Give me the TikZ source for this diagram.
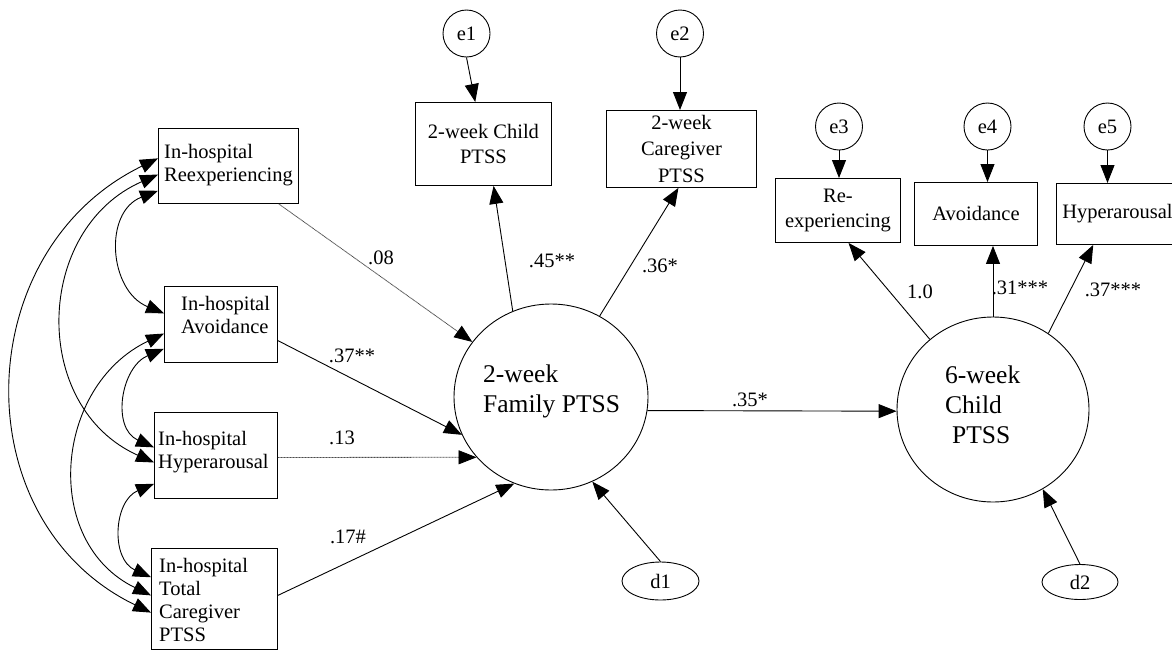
\documentclass[tikz,border=0pt]{standalone}
\usepackage{fontspec}
\setmainfont{Liberation Serif}
\usetikzlibrary{arrows.meta,calc,shapes.geometric}
\newcommand\fsbox{\fontsize{20.5}{23}\selectfont}
\newcommand\fsboxb{\fontsize{20.5}{25}\selectfont}
\newcommand\fscare{\fontsize{20.5}{26.5}\selectfont}
\newcommand\fsbig{\fontsize{25.5}{30}\selectfont}
\begin{document}
\begin{tikzpicture}[x=1pt,y=-1pt,
  every node/.style={inner sep=0pt},
  >={Triangle[length=18pt,width=14pt]},
  bx/.style={draw, line width=0.9pt, rectangle, anchor=north west, font=\fsboxb, align=center},
  txt/.style={anchor=north west, align=left, font=\fsbox},
  lat/.style={draw, line width=0.9pt, ellipse},
  err/.style={draw, line width=0.9pt, circle, minimum size=47pt, font=\fsbox},
  lab/.style={font=\fsbox},
  ln/.style={line width=0.9pt, ->},
  cov/.style={line width=0.9pt, <->},
  weak/.style={line width=0.8pt, draw=black!70, dash pattern=on 1pt off 0.5pt,
    -{Triangle[length=18pt,width=14pt,color=black]}}
]
\useasboundingbox (0,0) rectangle (1172,651);
\clip (0,0) rectangle (1172,651);

% left observed boxes
\node[bx, minimum width=140pt, minimum height=75pt] (reexp) at (158,128) {};
\node[bx, minimum width=113pt, minimum height=76pt] (avoid) at (164,286) {};
\node[bx, minimum width=123pt, minimum height=86pt] (hyper) at (154,412) {};
\node[bx, minimum width=126pt, minimum height=101pt] (total) at (151,548) {};
\node[txt] (reexpT) at (164,144) {In-hospital\\Reexperiencing};
\node[txt] (avoidT) at (181,296) {In-hospital\\Avoidance};
\node[txt] (hyperT) at (158,431) {In-hospital\\Hyperarousal};
\node[txt] (totalT) at (159,558) {In-hospital\\Total\\Caregiver\\PTSS};

% top boxes
\node[bx, minimum width=136pt, minimum height=83pt] (child) at (415,102) {2-week Child\\PTSS};
\node[bx, minimum width=150pt, minimum height=77pt, font=\fscare] (care) at (606,110) {2-week\\Caregiver\\PTSS};

% right boxes
\node[bx, minimum width=125pt, minimum height=64pt] (rre) at (775,178) {Re-\\experiencing};
\node[bx, minimum width=123pt, minimum height=63pt] (ravo) at (914,182) {Avoidance};
\node[bx, minimum width=122pt, minimum height=61pt] (rhyp) at (1056,183) {Hyperarousal};

% error terms
\node[err] (e1) at (466.5,33.5) {e1};
\node[err] (e2) at (680,33.5) {e2};
\node[err] (e3) at (839,126.5) {e3};
\node[err] (e4) at (987.5,126.5) {e4};
\node[err] (e5) at (1107.5,126.5) {e5};

% latent variables
\node[lat, minimum width=194pt, minimum height=186pt] (fam) at (551,397) {};
\node[txt, font=\fsbig] (famT) at (483,365) {2-week\\Family PTSS};
\node[lat, minimum width=192pt, minimum height=185pt] (six) at (993,409.5) {};
\node[txt, font=\fsbig] (sixT) at (945,366) {6-week\\Child\\\hspace*{7pt}PTSS};

% disturbances
\node[lat, minimum width=77pt, minimum height=38pt, font=\fsbox] (d1) at (660.5,581) {d1};
\node[lat, minimum width=76pt, minimum height=35pt, font=\fsbox] (d2) at (1080,582) {d2};

% error arrows
\draw[ln] (e1.south) -- ($(child.north west)!0.44!(child.north east)$);
\draw[ln] (e2) -- (e2 |- care.north);
\draw[ln] (e3) -- (e3 |- rre.north);
\draw[ln] (e4) -- (e4 |- ravo.north);
\draw[ln] (e5) -- (e5 |- rhyp.north);

% family factor loadings
\draw[ln] (fam.114) -- ($(child.south west)!0.574!(child.south east)$);
\draw[ln] (fam.59) -- ($(care.south west)!0.48!(care.south east)$);

% predictors
\draw[weak] ($(reexp.south west)!0.857!(reexp.south east)$) -- (fam.145.6);
\draw[ln] ($(avoid.north east)!0.71!(avoid.south east)$) -- (fam.203.9);
\draw[weak] ($(hyper.north east)!0.523!(hyper.south east)$) -- (fam.219);
\draw[ln] ($(total.north east)!0.465!(total.south east)$) -- (fam.247.1);
\draw[ln] (d1.north) -- (fam.296.3);

% path to 6-week
\draw[ln] (fam.-8.9) -- (six.181.5);

% 6-week loadings
\draw[ln] (six.132.3) -- ($(rre.south west)!0.584!(rre.south east)$);
\draw[ln] (six.north) -- (six.north |- ravo.south);
\draw[ln] (six.54.6) -- ($(rhyp.south west)!0.303!(rhyp.south east)$);
\draw[ln] (d2.north) -- (six.-58.1);

% labels
\node[lab] (l08) at (381,258) {.08};
\node[lab] (l45) at (552,261) {.45**};
\node[lab] (l36) at (660,266) {.36*};
\node[lab] (l37) at (352,356) {.37**};
\node[lab] (l13) at (342,438) {.13};
\node[lab] (l17) at (348,537) {.17\#};
\node[lab] (l35) at (750,400) {.35*};
\node[lab] (l10) at (920,292) {1.0};
\node[lab] (l31) at (1020,288) {.31***};
\node[lab] (l37b) at (1113,290) {.37***};

% covariance endpoints
\coordinate (r1) at ($(reexp.north west)!0.400!(reexp.south west)$);
\coordinate (r2) at ($(reexp.north west)!0.613!(reexp.south west)$);
\coordinate (r3) at ($(reexp.north west)!0.827!(reexp.south west)$);
\coordinate (a1) at ($(avoid.north west)!0.355!(avoid.south west)$);
\coordinate (a2) at ($(avoid.north west)!0.618!(avoid.south west)$);
\coordinate (a3) at ($(avoid.north west)!0.816!(avoid.south west)$);
\coordinate (h1) at ($(hyper.north west)!0.407!(hyper.south west)$);
\coordinate (h2) at ($(hyper.north west)!0.581!(hyper.south west)$);
\coordinate (h3) at ($(hyper.north west)!0.826!(hyper.south west)$);
\coordinate (t1) at ($(total.north west)!0.287!(total.south west)$);
\coordinate (t2) at ($(total.north west)!0.465!(total.south west)$);
\coordinate (t3) at ($(total.north west)!0.634!(total.south west)$);

\draw[cov] (r3) .. controls (103,212) and (109,291) .. (a1);
\draw[cov] (r2) .. controls (34,229) and (30,407) .. (h2);
\draw[cov] (r1) .. controls (-31,250) and (-38,521) .. (t3);
\draw[cov] (a3) .. controls (121,367) and (111,428) .. (h1);
\draw[cov] (a2) .. controls (54,386) and (41,542) .. (t2);
\draw[cov] (h3) .. controls (113.5,501) and (110.5,559) .. (t1);
\end{tikzpicture}
\end{document}
